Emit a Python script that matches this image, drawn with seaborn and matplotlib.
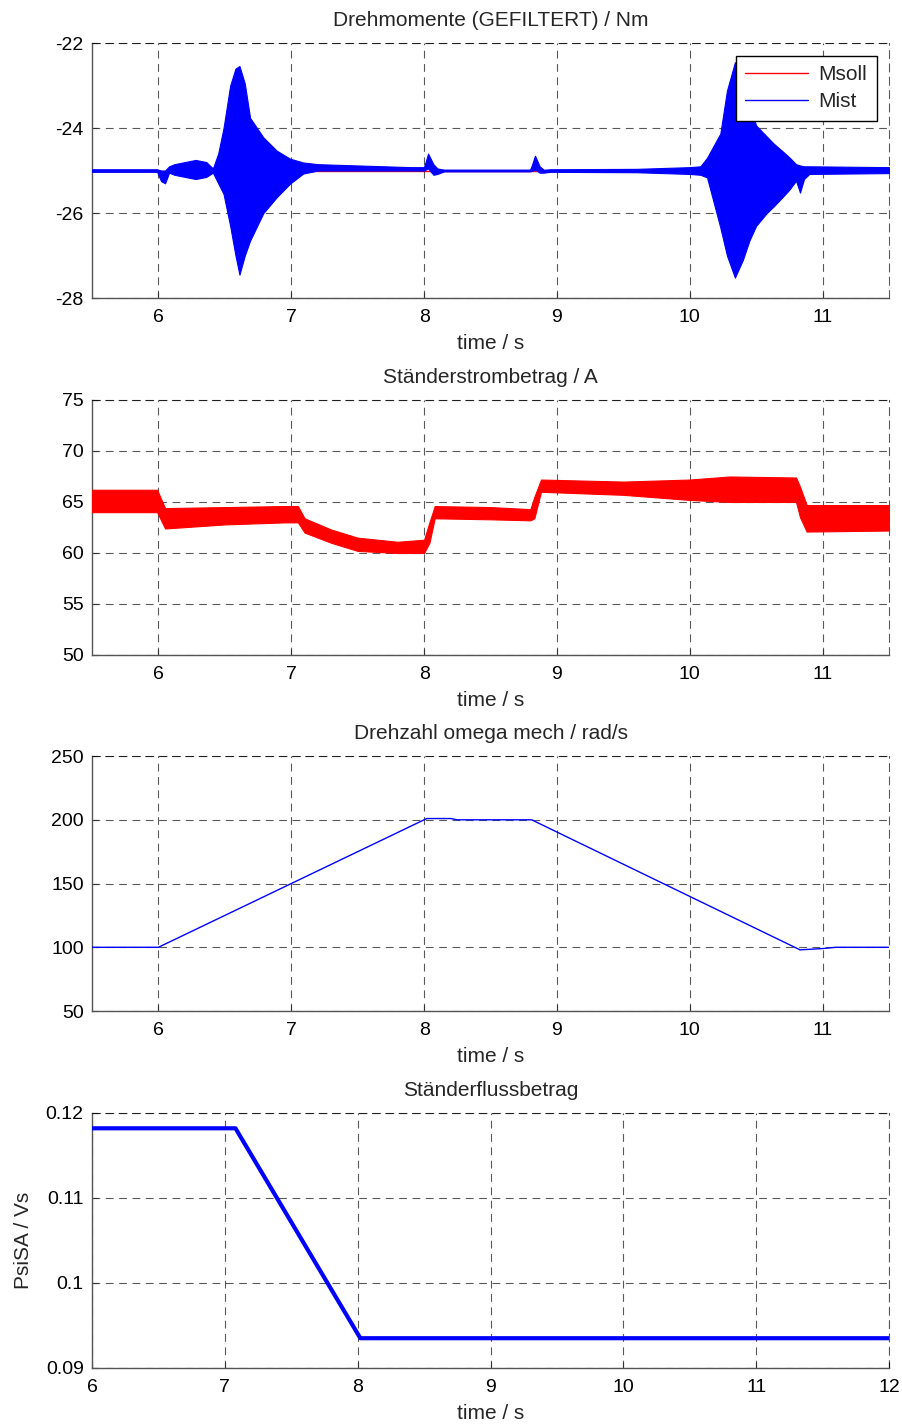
import numpy as np
import pandas as pd
import matplotlib
matplotlib.use("Agg")
import matplotlib.pyplot as plt
import seaborn as sns

# ---- torque (filtered) ----
t_msoll = [5.5, 11.5]
msoll = [-25.0, -25.0]

t_mist = [5.5, 5.99, 6.02, 6.05, 6.08, 6.12, 6.2, 6.28, 6.36, 6.41, 6.45, 6.49,
          6.54, 6.58, 6.61, 6.65, 6.69, 6.79, 6.89, 6.99, 7.09, 7.2, 7.5, 7.9,
          8.0, 8.03, 8.07, 8.1, 8.15, 8.8, 8.835, 8.87, 8.9, 8.95, 9.6, 10.0,
          10.08, 10.13, 10.23, 10.28, 10.34, 10.40, 10.45, 10.50, 10.58, 10.63,
          10.70, 10.75, 10.80, 10.83, 10.86, 10.9, 11.5]
mist_upper = [-24.97, -24.97, -25.0, -25.0, -24.9, -24.85, -24.8, -24.75, -24.8,
              -24.95, -24.6, -24.0, -23.0, -22.6, -22.54, -22.95, -23.76, -24.22,
              -24.53, -24.72, -24.81, -24.85, -24.88, -24.92, -24.92, -24.6,
              -24.85, -24.95, -24.98, -24.98, -24.65, -24.9, -24.98, -24.97,
              -24.96, -24.92, -24.9, -24.7, -24.13, -23.12, -22.45, -22.95, -23.5,
              -23.94, -24.2, -24.36, -24.55, -24.69, -24.85, -24.88, -24.9, -24.9,
              -24.92]
mist_lower = [-25.03, -25.03, -25.25, -25.3, -25.05, -25.1, -25.15, -25.2, -25.15,
              -25.05, -25.3, -25.55, -26.3, -27.0, -27.45, -27.0, -26.65, -26.0,
              -25.63, -25.31, -25.07, -25.0, -25.0, -25.0, -25.0, -24.95, -25.1,
              -25.08, -25.02, -25.02, -24.98, -25.05, -25.05, -25.03, -25.04,
              -25.08, -25.1, -25.16, -26.34, -27.0, -27.52, -27.1, -26.64, -26.3,
              -26.0, -25.85, -25.62, -25.45, -25.24, -25.52, -25.2, -25.08, -25.06]

# ---- stator current magnitude ----
t_is = [5.5, 5.99, 6.05, 6.5, 6.95, 7.05, 7.1, 7.3, 7.5, 7.8, 8.0, 8.04, 8.08,
        8.5, 8.8, 8.83, 8.88, 9.5, 10.0, 10.3, 10.8, 10.83, 10.88, 11.5]
is_upper = [66.2, 66.2, 64.4, 64.5, 64.6, 64.6, 63.4, 62.3, 61.5, 61.1, 61.3,
            63.0, 64.6, 64.5, 64.3, 65.5, 67.2, 67.0, 67.2, 67.5, 67.4, 66.5,
            64.7, 64.7]
is_lower = [64.0, 64.0, 62.4, 62.8, 63.0, 63.0, 62.0, 61.0, 60.2, 60.0, 60.0,
            61.0, 63.4, 63.3, 63.2, 63.4, 66.0, 65.7, 65.2, 65.0, 65.0, 63.5,
            62.1, 62.2]

# ---- mechanical speed ----
t_omega = [5.5, 6.0, 8.02, 8.2, 8.25, 8.81, 10.83, 11.0, 11.1, 11.5]
omega = [100, 100, 201, 201, 200, 200, 98, 99, 100, 100]

# ---- stator flux magnitude ----
t_psi = [6.0, 7.08, 8.02, 12.0]
psi = [0.1182, 0.1182, 0.0935, 0.0935]

titles = ["Drehmomente (GEFILTERT) / Nm", "Ständerstrombetrag / A",
          "Drehzahl omega mech / rad/s", "Ständerflussbetrag"]
xticks_a = [6, 7, 8, 9, 10, 11]
xticks_b = [6, 7, 8, 9, 10, 11, 12]
yticks_m = [-28, -26, -24, -22]
yticks_i = [50, 55, 60, 65, 70, 75]
yticks_w = [50, 100, 150, 200, 250]
yticks_p = [0.09, 0.10, 0.11, 0.12]
yticklabels_p = ["0.09", "0.1", "0.11", "0.12"]

sns.set_theme(style="white")
plt.rcParams["font.family"] = ["Liberation Sans", "DejaVu Sans"]
plt.rcParams["axes.unicode_minus"] = False

FS_TICK = 14
FS_TEXT = 15
fig = plt.figure(figsize=(9.03, 14.26), dpi=100)
fig.patch.set_facecolor("white")

left, width, height = 0.1019, 0.8826, 0.1788
bottoms = [0.7910, 0.5407, 0.2910, 0.0407]
axes = [fig.add_axes([left, b, width, height]) for b in bottoms]

GRID_DASH = (0, (7, 5))


def style_axis(ax, title, xlim, xticks, ylim, yticks):
    ax.set_xlim(*xlim)
    ax.set_ylim(*ylim)
    ax.set_xticks(xticks)
    ax.set_yticks(yticks)
    ax.grid(True, color="black", linestyle=GRID_DASH, linewidth=0.8, alpha=0.65)
    ax.set_axisbelow(True)
    for side in ("left", "bottom"):
        ax.spines[side].set_visible(True)
        ax.spines[side].set_color("#555555")
        ax.spines[side].set_linewidth(1.0)
    for side in ("top", "right"):
        ax.spines[side].set_visible(True)
        ax.spines[side].set_color("black")
        ax.spines[side].set_alpha(0.65)
        ax.spines[side].set_linewidth(0.8)
        ax.spines[side].set_linestyle(GRID_DASH)
    ax.tick_params(axis="both", direction="in", length=4, width=0.8,
                   colors="#333333", labelcolor="black", labelsize=FS_TICK,
                   left=True, bottom=True, top=False, right=False)
    ax.tick_params(axis="x", pad=8)
    ax.tick_params(axis="y", pad=6)
    ax.set_title(title, fontsize=FS_TEXT, pad=12)
    ax.set_xlabel("time / s", fontsize=FS_TEXT, labelpad=6)
    ax.set_ylabel("")


# torque
ax = axes[0]
df_soll = pd.DataFrame({"t": t_msoll, "M": msoll})
df_ist = pd.DataFrame({"t": t_mist,
                       "M": (np.array(mist_upper) + np.array(mist_lower)) / 2})
sns.lineplot(data=df_soll, x="t", y="M", ax=ax, color="red", lw=1.0,
             label="Msoll", zorder=2)
ax.fill_between(t_mist, mist_lower, mist_upper, color="#0000ff", lw=0.8,
                edgecolor="#0000ff", zorder=3)
sns.lineplot(data=df_ist, x="t", y="M", ax=ax, color="#0000ff", lw=1.0,
             label="Mist", zorder=3)
style_axis(ax, titles[0], (5.5, 11.5), xticks_a, (-28, -22), yticks_m)
leg = ax.legend(loc="upper right", fontsize=FS_TEXT, frameon=True, fancybox=False,
                edgecolor="black", framealpha=1, handlelength=3.0,
                handletextpad=0.5, borderaxespad=0.6, borderpad=0.45,
                labelspacing=0.4)
leg.get_frame().set_linewidth(1.0)

# stator current
ax = axes[1]
ax.fill_between(t_is, is_lower, is_upper, color="#ff0000", lw=0.8,
                edgecolor="#ff0000", zorder=3)
style_axis(ax, titles[1], (5.5, 11.5), xticks_a, (50, 75), yticks_i)

# speed
ax = axes[2]
df_w = pd.DataFrame({"t": t_omega, "w": omega})
sns.lineplot(data=df_w, x="t", y="w", ax=ax, color="#0000ff", lw=1.0, zorder=3)
style_axis(ax, titles[2], (5.5, 11.5), xticks_a, (50, 250), yticks_w)

# flux
ax = axes[3]
df_p = pd.DataFrame({"t": t_psi, "p": psi})
sns.lineplot(data=df_p, x="t", y="p", ax=ax, color="#0000ff", lw=3.0, zorder=3)
style_axis(ax, titles[3], (6, 12), xticks_b, (0.09, 0.12), yticks_p)
ax.set_yticklabels(yticklabels_p)
ax.set_ylabel("PsiSA / Vs", fontsize=FS_TEXT, labelpad=9)

fig.savefig("out.png", dpi=100, facecolor="white")
